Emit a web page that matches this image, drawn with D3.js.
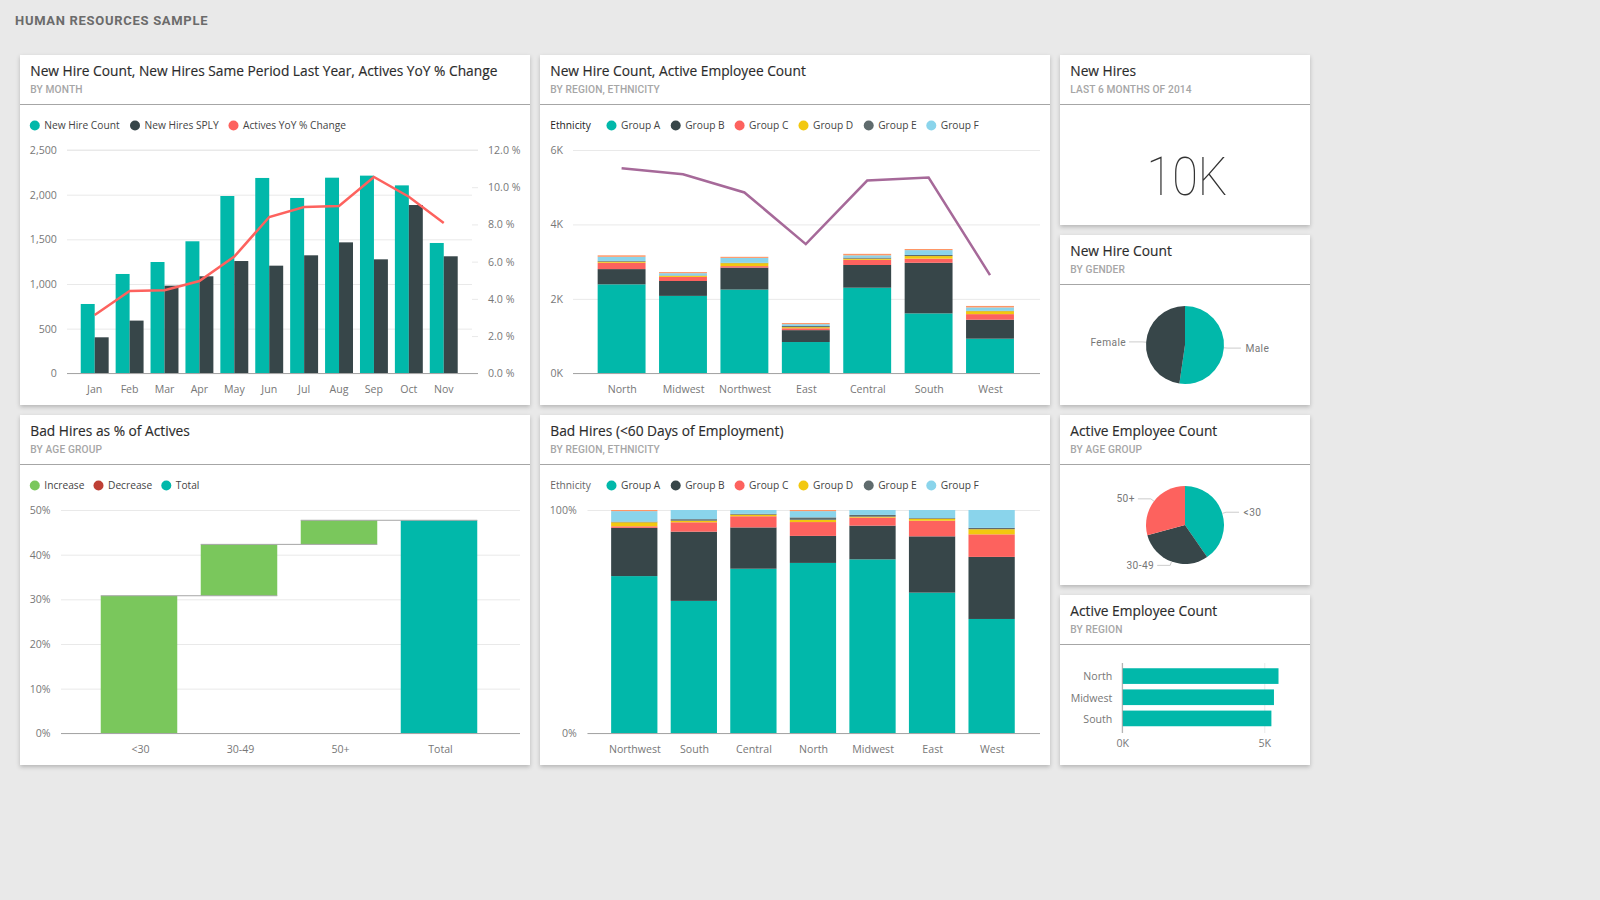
<!DOCTYPE html>
<html><head><meta charset="utf-8">
<script src="https://cdn.jsdelivr.net/npm/d3@7/dist/d3.min.js"></script>
<style>
html,body{margin:0;padding:0;background:#e9e9e9;overflow:hidden}
svg{display:block}
text{font-family:"Open Sans",sans-serif}
.card{fill:#fff;filter:drop-shadow(0 2px 2px rgba(0,0,0,.22))}
.title{font-size:13.75px;fill:#2b2b2b;stroke:#2b2b2b;stroke-width:.15px}
.sub{font-family:Roboto,sans-serif;font-size:10.2px;fill:#a6a6a6;letter-spacing:.12px;font-weight:500}
.leg{font-size:10.2px;fill:#444}
.tick text{font-size:10.6px;fill:#777}
.pl{font-family:Roboto,sans-serif;font-size:10.2px;fill:#777;letter-spacing:.4px}
</style></head><body>
<svg id="c" width="1600" height="900"></svg>
<script>
// ---- data ----
const teal="#01B8AA",dark="#374649",red="#FD625E",yellow="#F2C80F",slate="#5F6B6D",sky="#8AD4EB",orange="#FE9666",purple="#A66999",green="#7AC75C",brick="#BE3F35";
const months=["Jan","Feb","Mar","Apr","May","Jun","Jul","Aug","Sep","Oct","Nov"];
const newHires=[776,1112,1246,1478,1985,2187,1963,2190,2213,2104,1459];
const newHiresSPLY=[403,590,981,1086,1257,1205,1321,1466,1276,1884,1310];
const activesYoY=[3.13,4.42,4.46,4.96,6.27,8.4,8.94,8.99,10.55,9.49,8.08];

const regionsA=["North","Midwest","Northwest","East","Central","South","West"];
const hireA=[2.39,2.08,2.25,0.84,2.30,1.61,0.93];
const hireB=[0.41,0.40,0.59,0.32,0.61,1.36,0.51];
const hireC=[0.17,0.11,0.04,0.05,0.14,0.11,0.15];
const hireD=[0.03,0.03,0.08,0.03,0.03,0.07,0.08];
const hireE=[0.02,0.01,0.01,0.03,0.03,0.03,0.01];
const hireF=[0.11,0.06,0.13,0.05,0.06,0.13,0.09];
const hireOther=[0.04,0.03,0.03,0.03,0.04,0.03,0.04];
const activeEmployees=[5.51,5.35,4.86,3.47,5.18,5.26,2.64];

const ageGroups=["<30","30-49","50+","Total"];
const badHireSteps=[30.8,11.5,5.4];

const regionsB=["Northwest","South","Central","North","Midwest","East","West"];
const badA=[70.4,59.3,73.7,76.3,77.9,63.0,51.2];
const badB=[21.6,31.0,18.5,12.1,15.1,25.2,27.8];
const badC=[0.7,4.2,5.0,6.2,3.6,7.0,10.1];
const badD=[1.8,0.7,0.7,1.0,0.4,0.9,2.3];
const badE=[0.3,0.7,0.4,1.1,0.8,0.3,0.6];
const badF=[4.7,4.1,1.7,2.8,2.2,3.6,8.0];
const badOther=[0.5,0,0,0.5,0,0,0];

const genderLabels=["Male","Female"],genderValues=[52.3,47.7];
const ageLabels=["<30","30-49","50+"],ageValues=[40.4,30.4,29.2];
const barRegions=["North","Midwest","South"],barValues=[5.50,5.34,5.25];

const groupNames=["Group A","Group B","Group C","Group D","Group E","Group F"];
const groupColors=[teal,dark,red,yellow,slate,sky,orange];

// ---- helpers ----
const svg=d3.select("#c");
svg.append("text").attr("x",15).attr("y",24.5).text("HUMAN RESOURCES SAMPLE")
  .style("font-family","Roboto,sans-serif").style("font-weight",700).style("font-size","13px").style("letter-spacing",".7px").style("fill","#6b6b6b");

function card(x,y,w,h,title,sub){
  const g=svg.append("g").attr("transform",`translate(${x},${y})`);
  g.append("rect").attr("class","card").attr("width",w).attr("height",h);
  g.append("text").attr("class","title").attr("x",10.3).attr("y",21).text(title);
  g.append("text").attr("class","sub").attr("x",10.3).attr("y",37.7).text(sub);
  g.append("line").attr("x1",0).attr("x2",w).attr("y1",49.5).attr("y2",49.5).attr("stroke","#a6a6a6");
}
function legend(y,items,head){
  const g=svg.append("g");
  if(head) g.append("text").attr("class","leg").attr("x",head.x).attr("y",y+3.8).text("Ethnicity").style("fill",head.fill);
  items.forEach(d=>{
    g.append("circle").attr("cx",d.x).attr("cy",y+.5).attr("r",5).attr("fill",d.c);
    g.append("text").attr("class","leg").attr("x",d.x+9.5).attr("y",y+3.8).text(d.t);
  });
}
function leftAxis(scale,x0,x1,labelRight,vals,fmt){
  const g=svg.append("g").attr("transform",`translate(${x0},0)`)
    .call(d3.axisLeft(scale).tickValues(vals).tickFormat(fmt).tickSize(-(x1-x0)).tickPadding(x0-labelRight));
  g.select(".domain").remove();
  g.selectAll(".tick line").attr("stroke","#e9e9e9");
  g.selectAll(".tick text").attr("dy","0.32em");
  return g;
}
function bottomAxis(band,y,labelY,shift){
  const g=svg.append("g").attr("transform",`translate(0,${y})`)
    .call(d3.axisBottom(band).tickSize(0).tickPadding(labelY-y));
  g.select(".domain").remove();
  g.selectAll(".tick text").attr("dy","0.32em").attr("dx",shift);
  return g;
}
function baseline(x0,x1,y){
  svg.append("line").attr("x1",x0).attr("x2",x1).attr("y1",y).attr("y2",y).attr("stroke","#a6a6a6");
}
function stacked(labels,cols,x,y){
  const rows=labels.map((k,i)=>{const r={k};cols.forEach((c,j)=>r[j]=c[i]);return r;});
  const series=d3.stack().keys(cols.map((c,j)=>j))(rows);
  svg.append("g").selectAll("g").data(series).join("g").attr("fill",(s,j)=>groupColors[j])
    .selectAll("rect").data(s=>s).join("rect")
    .attr("x",d=>x(d.data.k)).attr("width",x.bandwidth())
    .attr("y",d=>y(d[1])).attr("height",d=>y(d[0])-y(d[1]));
}
const groupLegend=[611.5,675.7,739.6,803.5,868.7,931.3].map((x,i)=>({x,c:groupColors[i],t:groupNames[i]}));

card(20,55,510,350,"New Hire Count, New Hires Same Period Last Year, Actives YoY % Change","BY MONTH");
card(540,55,510,350,"New Hire Count, Active Employee Count","BY REGION, ETHNICITY");
card(1060,55,250,170,"New Hires","LAST 6 MONTHS OF 2014");
card(1060,235,250,170,"New Hire Count","BY GENDER");
card(20,415,510,350,"Bad Hires as % of Actives","BY AGE GROUP");
card(540,415,510,350,"Bad Hires (<60 Days of Employment)","BY REGION, ETHNICITY");
card(1060,415,250,170,"Active Employee Count","BY AGE GROUP");
card(1060,595,250,170,"Active Employee Count","BY REGION");

// ---- chart 1: clustered columns + line ----
{
  const y=d3.scaleLinear().domain([0,2500]).range([373.3,150]);
  const yR=d3.scaleLinear().domain([0,12]).range([373.3,150]);
  const x=d3.scaleBand().domain(months).range([77.25,461.2]).paddingInner(.2).paddingOuter(.1);
  legend(125,[{x:34.8,c:teal,t:"New Hire Count"},{x:135,c:dark,t:"New Hires SPLY"},{x:233.5,c:red,t:"Actives YoY % Change"}]);
  leftAxis(y,67,472,56.8,[0,500,1000,1500,2000,2500],d3.format(","));
  const r=svg.append("g").attr("transform","translate(478,0)")
    .call(d3.axisRight(yR).tickValues([0,2,4,6,8,10,12]).tickFormat(d=>d3.format(".1f")(d)+" %").tickSize(-6).tickPadding(10));
  r.select(".domain").remove();
  r.selectAll(".tick line").attr("stroke","#e9e9e9");
  r.selectAll(".tick text").attr("dy","0.32em");
  svg.append("line").attr("x1",67).attr("x2",478).attr("y1",150).attr("y2",150).attr("stroke","#e9e9e9");
  const bw=x.bandwidth()/2;
  svg.append("g").attr("fill",teal).selectAll("rect").data(months).join("rect")
    .attr("x",d=>x(d)).attr("width",bw).attr("y",(d,i)=>y(newHires[i])).attr("height",(d,i)=>y(0)-y(newHires[i]));
  svg.append("g").attr("fill",dark).selectAll("rect").data(months).join("rect")
    .attr("x",d=>x(d)+bw).attr("width",bw).attr("y",(d,i)=>y(newHiresSPLY[i])).attr("height",(d,i)=>y(0)-y(newHiresSPLY[i]));
  baseline(67,478,373.5);
  svg.append("path").datum(activesYoY).attr("fill","none").attr("stroke",red).attr("stroke-width",2.5)
    .attr("d",d3.line().x((d,i)=>x(months[i])+x.bandwidth()/2).y(d=>yR(d)));
  bottomAxis(x,373.3,390,0);
}
// ---- chart 2: stacked columns + line ----
{
  const y=d3.scaleLinear().domain([0,6]).range([373.3,150]);
  const x=d3.scaleBand().domain(regionsA).range([590.9,1020.7]).paddingInner(.22).paddingOuter(.11);
  legend(125,groupLegend,{x:550.3,fill:"#222"});
  leftAxis(y,573,1040,563,[0,2,4,6],d=>d+"K");
  stacked(regionsA,[hireA,hireB,hireC,hireD,hireE,hireF,hireOther],x,y);
  baseline(573,1040,373.5);
  svg.append("path").datum(activeEmployees).attr("fill","none").attr("stroke",purple).attr("stroke-width",2.5)
    .attr("d",d3.line().x((d,i)=>x(regionsA[i])+x.bandwidth()/2).y(d=>y(d)));
  bottomAxis(x,373.3,390,.6);
}
// ---- KPI ----
svg.append("text").attr("x",1146.5).attr("y",195).attr("textLength",81).attr("lengthAdjust","spacingAndGlyphs").text("10K")
  .style("font-family","Roboto,sans-serif").style("font-weight",100).style("font-size","54px").style("fill","#333");
// ---- pies ----
function pie(cx,cy,labels,values,colors){
  const r=39;
  const arcs=d3.pie().sort(null)(values);
  const arc=d3.arc().innerRadius(0).outerRadius(r);
  const g=svg.append("g").attr("transform",`translate(${cx},${cy})`);
  g.selectAll("path").data(arcs).join("path").attr("d",arc).attr("fill",(d,i)=>colors[i]);
  arcs.forEach((a,i)=>{
    const m=(a.startAngle+a.endAngle)/2,sx=Math.sin(m),cy0=-Math.cos(m);
    const side=sx>=0?1:-1;
    const ex=(r+4)*sx,ey=(r+4)*cy0;
    g.append("path").attr("fill","none").attr("stroke","#ccc")
      .attr("d",d3.line()([[r*sx,r*cy0],[ex,ey],[ex+side*13,ey]]));
    g.append("text").attr("class","pl").attr("x",ex+side*(side>0?17.5:16)).attr("y",ey+3.6)
      .attr("text-anchor",side>0?"start":"end").text(labels[i]);
  });
}
pie(1185,345,genderLabels,genderValues,[teal,dark]);
pie(1185,525,ageLabels,ageValues,[teal,dark,red]);
// ---- chart 4: waterfall ----
{
  const y=d3.scaleLinear().domain([0,50]).range([733.3,510]);
  const x=d3.scaleBand().domain(ageGroups).range([89,489]).paddingInner(.235).paddingOuter(.1175);
  legend(485,[{x:34.8,c:green,t:"Increase"},{x:98.5,c:brick,t:"Decrease"},{x:166.3,c:teal,t:"Total"}]);
  leftAxis(y,61,520,50.6,[0,10,20,30,40,50],d=>d+"%");
  const total=d3.sum(badHireSteps);
  const ends=d3.cumsum(badHireSteps);
  const wf=badHireSteps.map((v,i)=>({k:ageGroups[i],a:ends[i]-v,b:ends[i],c:green}));
  wf.push({k:"Total",a:0,b:total,c:teal});
  svg.append("g").selectAll("rect").data(wf).join("rect")
    .attr("x",d=>x(d.k)).attr("width",x.bandwidth()).attr("y",d=>y(d.b)).attr("height",d=>y(d.a)-y(d.b)).attr("fill",d=>d.c);
  svg.append("g").selectAll("line").data(wf.slice(0,3)).join("line")
    .attr("x1",d=>x(d.k)).attr("x2",(d,i)=>x(wf[i+1].k)+x.bandwidth())
    .attr("y1",d=>y(d.b)).attr("y2",d=>y(d.b)).attr("stroke","#a6a6a6");
  baseline(61,520,733.5);
  bottomAxis(x,733.3,750,1.5);
}
// ---- chart 5: 100% stacked ----
{
  const y=d3.scaleLinear().domain([0,100]).range([733.3,510]);
  const x=d3.scaleBand().domain(regionsB).range([604.5,1021.4]).paddingInner(.223).paddingOuter(.1115);
  legend(485,groupLegend,{x:550.3,fill:"#666"});
  leftAxis(y,587.5,1040,576.7,[0,100],d=>d+"%");
  stacked(regionsB,[badA,badB,badC,badD,badE,badF,badOther],x,y);
  baseline(587.5,1040,733.5);
  bottomAxis(x,733.3,750,.6);
}
// ---- chart 8: horizontal bars ----
{
  const x=d3.scaleLinear().domain([0,5]).range([1122.3,1264.3]);
  const y=d3.scaleBand().domain(barRegions).range([665.5,729]).paddingInner(.26).paddingOuter(.13);
  const b=svg.append("g").attr("transform","translate(0,733)")
    .call(d3.axisBottom(x).tickValues([0,5]).tickFormat(d=>d+"K").tickSize(-70).tickPadding(6.5));
  b.select(".domain").remove();
  b.selectAll(".tick line").attr("stroke","#e9e9e9");
  svg.append("g").attr("fill",teal).selectAll("rect").data(barRegions).join("rect")
    .attr("x",x(0)).attr("y",d=>y(d)).attr("height",y.bandwidth()).attr("width",(d,i)=>x(barValues[i])-x(0));
  const a=svg.append("g").attr("transform","translate(1122.3,0)")
    .call(d3.axisLeft(y).tickSize(0).tickPadding(10));
  a.select(".domain").remove();
  a.selectAll(".tick text").attr("dy","0.4em");
  svg.append("line").attr("x1",1122.3).attr("x2",1122.3).attr("y1",663).attr("y2",733).attr("stroke","#a6a6a6");
}
</script>
</body></html>
